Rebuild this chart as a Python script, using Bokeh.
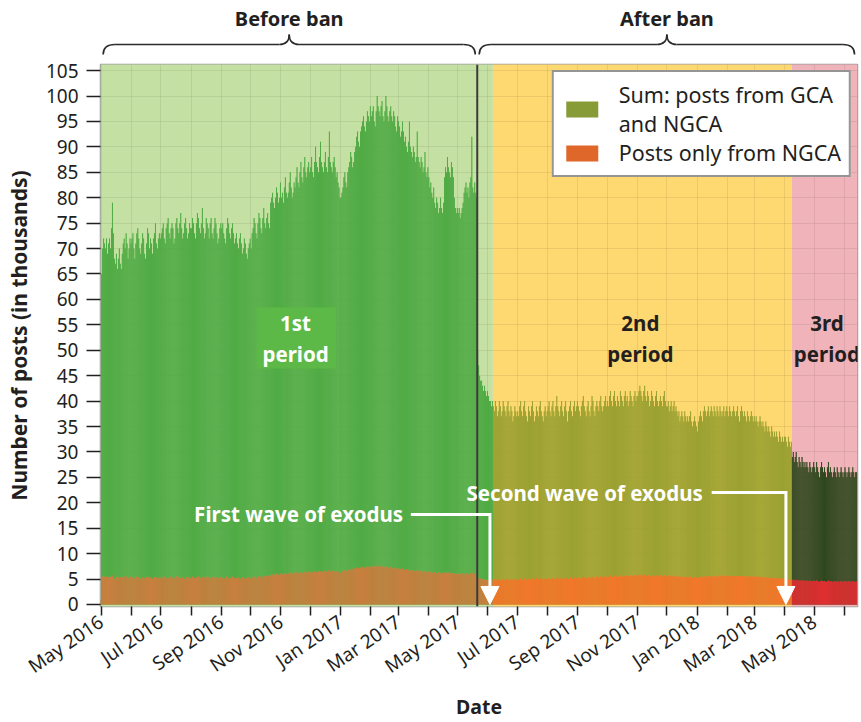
import numpy as np
import pandas as pd
from bokeh.plotting import figure
from bokeh.models import (Range1d, MonthsTicker, CustomJSTickFormatter, FixedTicker, Legend,
                          LegendItem, Label, BoxAnnotation, Arrow, NormalHead, ColumnDataSource, Span)
from bokeh.layouts import column
from bokeh.embed import file_html
from bokeh.resources import INLINE

# ---------------- data (thousands of posts per day) ----------------
START = "2016-05-01"
BAN_DATE = "2017-05-21"
P2_START = "2017-06-06"
P3_START = "2018-04-08"
FIRST_WAVE = "2017-06-03"
SECOND_WAVE = "2018-04-02"

SUM_2016_05 = [65,70,72,71,70,72,69, 71,72,70,74,79,73,68, 67,69,66,68,70,67,66, 69,71,72,70,73,71,68, 70,72,71]
SUM_2016_06 = [72,73,70,68,71,73,74, 72,70,69,71,73,72,69, 68,71,74,73,70,72,71, 69,72,73,75,71,70,72, 73,72]
SUM_2016_07 = [73,74,75,72,71,74,75, 76,73,72,74,75,74,71, 72,75,76,74,73,75,77, 74,72,73,75,76,74,72, 73,75,74]
SUM_2016_08 = [74,76,75,73,72,75,77, 76,74,73,75,78,74,72, 73,76,75,74,72,75,76, 73,72,74,76,75,73,71, 72,74,75]
SUM_2016_09 = [74,75,73,72,71,74,76, 75,73,72,74,75,73,71, 72,73,71,70,72,73,71, 69,70,72,71,69,68,70, 71,72]
SUM_2016_10 = [70,73,74,76,75,73,72, 75,77,76,74,73,76,78, 75,74,76,77,75,74,79, 80,81,79,78,80,82,81, 79,80,83]
SUM_2016_11 = [80,81,79,82,84,81,80, 81,83,85,82,80,81,83, 82,84,86,83,82,85,87, 84,83,86,88,85,84,86, 87,85]
SUM_2016_12 = [86,88,85,84,87,90,87, 86,85,88,91,87,86,85, 87,89,86,85,88,93,87, 86,85,87,88,86,84,85, 83,82,80]
SUM_2017_01 = [80,81,82,84,85,83,82, 85,86,87,89,88,86,87, 89,90,92,93,91,90,93, 94,95,96,94,93,95,97, 96,95,98]
SUM_2017_02 = [96,97,98,95,94,97,100, 98,97,96,98,99,96,95, 97,100,98,96,95,97,98, 96,95,97,96,94,93,96]
SUM_2017_03 = [95,94,92,93,95,93,91, 92,90,89,91,95,90,89, 88,90,89,87,88,93,88, 87,86,88,87,85,86,89, 85,84,86]
SUM_2017_04 = [84,82,83,81,80,82,79, 78,80,79,77,78,80,78, 77,79,84,86,85,88,86, 85,84,87,86,84,80,78, 77,78]
SUM_2017_05 = [77,78,76,77,78,79,81, 82,83,81,82,80,83,84, 92,82,81,83,81,80,50, 47,45,44,44,43,42,43, 42,41,42]
SUM_2017_06 = [41,40,40,39,40,39,38, 40,39,37,38,40,39,37, 38,40,39,38,37,39,40, 38,37,39,38,36,37,39, 38,37]
SUM_2017_07 = [38,37,39,40,38,37,39, 40,38,37,36,39,38,37, 39,40,38,36,37,39,38, 37,39,40,38,37,36,38, 39,37,38]
SUM_2017_08 = [39,40,38,37,39,40,38, 37,39,41,39,38,37,39, 40,38,37,39,40,38,36, 38,39,40,38,37,39,40, 38,39,40]
SUM_2017_09 = [39,38,37,39,40,41,39, 38,37,39,40,38,37,39, 41,40,38,37,39,40,39, 38,40,41,39,38,39,40, 41,39]
SUM_2017_10 = [40,39,41,42,40,39,41, 42,40,39,41,40,39,42, 41,40,39,41,42,40,41, 39,40,42,41,40,39,41, 42,40,41]
SUM_2017_11 = [41,42,43,42,41,40,42, 43,41,40,42,41,39,40, 42,41,40,39,41,42,40, 39,40,41,40,39,41,42, 40,39]
SUM_2017_12 = [39,40,38,39,40,38,39, 40,38,39,38,37,38,36, 37,38,37,36,38,37,36, 37,36,37,38,36,35,36, 37,36,35]
SUM_2018_01 = [34,36,37,38,37,36,38, 39,38,37,38,39,37,38, 39,38,37,39,38,37,39, 38,37,39,38,37,38,39, 37,38,39]
SUM_2018_02 = [38,37,39,38,37,38,39, 38,37,38,39,37,36,38, 39,38,37,38,37,36,38, 37,36,37,38,37,36,37]
SUM_2018_03 = [36,37,36,35,36,37,36, 35,36,35,34,36,35,34, 35,34,33,35,34,33,34, 33,34,33,32,34,33,32, 33,32,33]
SUM_2018_04 = [33,32,31,33,32,31,32, 29,30,28,29,30,28,27, 29,28,27,29,28,27,28, 27,28,27,26,28,27,26, 27,28]
SUM_2018_05 = [27,26,28,27,26,25,27, 28,27,26,27,26,25,27, 28,26,27,26,25,26,27, 26,25,27,26,25,26,27, 26,25,26]
SUM_2018_06 = [27,26,25,26,27,26,25, 26,27,26,25,26,26]

NGCA_2016_05 = [5.3,5.5,5.6,5.4,5.2,5.5,5.1, 5.3,5.6,5.4,5.5,5.7,5.3,5.0, 5.1,5.4,5.5,5.3,5.2,5.4,5.0, 5.2,5.5,5.6,5.4,5.3,5.5,5.1, 5.2,5.4,5.5]
NGCA_2016_06 = [5.4,5.3,5.2,5.0,5.3,5.5,5.4, 5.3,5.1,5.0,5.2,5.4,5.3,5.1, 5.0,5.3,5.5,5.4,5.2,5.3,5.1, 5.0,5.2,5.4,5.5,5.3,5.1,5.2, 5.4,5.3]
NGCA_2016_07 = [5.2,5.1,5.3,5.5,5.4,5.2,5.0, 5.1,5.3,5.4,5.5,5.3,5.1,5.0, 5.2,5.4,5.6,5.5,5.3,5.1,5.2, 5.4,5.3,5.1,5.0,5.2,5.4,5.5, 5.3,5.2,5.1]
NGCA_2016_08 = [5.3,5.5,5.4,5.2,5.0,5.3,5.4, 5.5,5.3,5.1,5.2,5.4,5.6,5.3, 5.1,5.3,5.5,5.4,5.2,5.0,5.2, 5.4,5.5,5.3,5.1,5.2,5.4,5.3, 5.1,5.2,5.4]
NGCA_2016_09 = [5.3,5.2,5.0,5.1,5.4,5.5,5.3, 5.2,5.0,5.1,5.3,5.5,5.4,5.2, 5.0,5.2,5.4,5.3,5.1,5.0,5.2, 5.3,5.4,5.2,5.0,5.1,5.3,5.4, 5.2,5.1]
NGCA_2016_10 = [5.0,5.2,5.4,5.5,5.3,5.1,5.2, 5.4,5.6,5.5,5.3,5.2,5.5,5.7, 5.5,5.4,5.6,5.8,5.6,5.5,5.7, 5.9,6.0,5.8,5.7,5.9,6.1,5.9, 5.8,6.0,6.1]
NGCA_2016_11 = [6.0,5.9,5.8,6.1,6.2,6.0,5.9, 6.1,6.3,6.2,6.0,5.9,6.2,6.3, 6.1,6.2,6.4,6.2,6.1,6.3,6.4, 6.2,6.1,6.3,6.5,6.3,6.2,6.4, 6.5,6.3]
NGCA_2016_12 = [6.4,6.5,6.3,6.2,6.5,6.6,6.4, 6.3,6.5,6.7,6.6,6.4,6.3,6.6, 6.7,6.5,6.4,6.6,6.8,6.6,6.5, 6.4,6.6,6.7,6.5,6.3,6.4,6.6, 6.5,6.3,6.2]
NGCA_2017_01 = [6.3,6.5,6.6,6.7,6.8,6.6,6.5, 6.7,6.9,7.0,6.8,6.7,6.9,7.0, 7.1,6.9,7.2,7.3,7.1,7.0,7.2, 7.3,7.4,7.2,7.1,7.3,7.4,7.2, 7.3,7.5,7.4]
NGCA_2017_02 = [7.3,7.5,7.6,7.4,7.3,7.5,7.7, 7.5,7.4,7.3,7.5,7.6,7.4,7.2, 7.3,7.5,7.4,7.2,7.1,7.3,7.4, 7.2,7.1,7.0,7.2,7.1,6.9,7.0]
NGCA_2017_03 = [7.1,7.0,6.9,7.0,7.1,6.9,6.8, 6.9,7.0,6.8,6.7,6.9,6.8,6.6, 6.7,6.8,6.6,6.5,6.7,6.8,6.6, 6.5,6.6,6.7,6.5,6.4,6.5,6.6, 6.4,6.3,6.5]
NGCA_2017_04 = [6.4,6.3,6.5,6.4,6.2,6.3,6.4, 6.2,6.1,6.3,6.4,6.2,6.1,6.3, 6.2,6.1,6.3,6.4,6.2,6.5,6.3, 6.2,6.1,6.3,6.2,6.0,6.1,6.2, 6.0,6.1]
NGCA_2017_05 = [6.0,6.1,5.9,6.0,6.2,6.1,5.9, 6.0,6.2,6.1,6.0,5.9,6.1,6.2, 6.3,6.1,6.0,6.1,5.9,5.8,5.3, 5.1,5.0,5.1,4.9,5.0,4.8,4.9, 5.0,4.8,4.9]
NGCA_2017_06 = [4.8,4.9,5.0,4.8,4.7,4.9,5.0, 4.8,4.7,4.9,5.0,4.8,4.6,4.8, 4.9,5.0,4.8,4.7,4.9,5.0,4.9, 4.8,4.7,4.9,5.0,4.8,4.7,4.9, 5.0,4.8]
NGCA_2017_07 = [4.9,4.8,5.0,5.1,4.9,4.8,5.0, 5.1,4.9,4.8,4.7,5.0,5.1,4.9, 5.0,5.1,4.9,4.8,5.0,5.2,5.0, 4.9,5.1,5.2,5.0,4.9,4.8,5.0, 5.1,4.9,5.0]
NGCA_2017_08 = [5.1,5.2,5.0,4.9,5.1,5.2,5.0, 4.9,5.1,5.3,5.1,5.0,4.9,5.1, 5.2,5.0,4.9,5.1,5.3,5.1,4.9, 5.0,5.2,5.3,5.1,5.0,5.2,5.3, 5.1,5.2,5.3]
NGCA_2017_09 = [5.2,5.1,5.0,5.2,5.4,5.5,5.3, 5.2,5.1,5.3,5.4,5.2,5.1,5.3, 5.5,5.4,5.2,5.1,5.3,5.5,5.4, 5.3,5.4,5.6,5.4,5.3,5.4,5.5, 5.6,5.4]
NGCA_2017_10 = [5.5,5.4,5.6,5.7,5.5,5.4,5.6, 5.7,5.5,5.4,5.6,5.5,5.4,5.7, 5.6,5.5,5.4,5.6,5.8,5.6,5.7, 5.5,5.6,5.8,5.7,5.6,5.5,5.7, 5.8,5.6,5.7]
NGCA_2017_11 = [5.7,5.8,5.9,5.8,5.7,5.6,5.8, 5.9,5.7,5.6,5.8,5.7,5.5,5.6, 5.8,5.7,5.6,5.5,5.7,5.8,5.6, 5.5,5.6,5.7,5.6,5.5,5.7,5.8, 5.6,5.5]
NGCA_2017_12 = [5.6,5.7,5.5,5.6,5.7,5.5,5.6, 5.7,5.5,5.6,5.5,5.4,5.5,5.3, 5.4,5.5,5.4,5.3,5.5,5.4,5.3, 5.4,5.3,5.4,5.5,5.3,5.2,5.3, 5.4,5.3,5.2]
NGCA_2018_01 = [5.1,5.3,5.4,5.5,5.4,5.3,5.5, 5.6,5.5,5.4,5.5,5.6,5.4,5.5, 5.6,5.5,5.4,5.6,5.5,5.4,5.6, 5.7,5.5,5.6,5.7,5.5,5.6,5.7, 5.5,5.6,5.7]
NGCA_2018_02 = [5.6,5.5,5.7,5.6,5.5,5.6,5.7, 5.6,5.5,5.6,5.7,5.5,5.4,5.6, 5.7,5.6,5.5,5.6,5.5,5.4,5.6, 5.5,5.4,5.5,5.6,5.5,5.4,5.5]
NGCA_2018_03 = [5.4,5.5,5.4,5.3,5.4,5.5,5.4, 5.3,5.4,5.3,5.2,5.4,5.3,5.2, 5.3,5.2,5.1,5.3,5.2,5.1,5.2, 5.1,5.2,5.1,5.0,5.2,5.1,5.0, 5.1,5.0,5.1]
NGCA_2018_04 = [5.0,4.9,4.8,5.0,4.9,4.8,4.9, 4.8,4.9,4.7,4.8,4.9,4.7,4.6, 4.8,4.7,4.6,4.8,4.7,4.6,4.7, 4.6,4.7,4.6,4.5,4.7,4.6,4.5, 4.6,4.7]
NGCA_2018_05 = [4.6,4.5,4.7,4.6,4.5,4.4,4.6, 4.7,4.6,4.5,4.6,4.5,4.4,4.6, 4.7,4.5,4.6,4.5,4.4,4.5,4.6, 4.5,4.4,4.6,4.5,4.4,4.5,4.6, 4.5,4.4,4.5]
NGCA_2018_06 = [4.6,4.5,4.4,4.5,4.6,4.5,4.4, 4.5,4.6,4.5,4.4,4.5,4.5]

Y_TICKS = list(range(0, 106, 5))
MONTH_NAMES = ["Jan", "Feb", "Mar", "Apr", "May", "Jun", "Jul", "Aug", "Sep", "Oct", "Nov", "Dec"]

SUM_MONTHS = [SUM_2016_05, SUM_2016_06, SUM_2016_07, SUM_2016_08, SUM_2016_09, SUM_2016_10,
              SUM_2016_11, SUM_2016_12, SUM_2017_01, SUM_2017_02, SUM_2017_03, SUM_2017_04,
              SUM_2017_05, SUM_2017_06, SUM_2017_07, SUM_2017_08, SUM_2017_09, SUM_2017_10,
              SUM_2017_11, SUM_2017_12, SUM_2018_01, SUM_2018_02, SUM_2018_03, SUM_2018_04,
              SUM_2018_05, SUM_2018_06]
NGCA_MONTHS = [NGCA_2016_05, NGCA_2016_06, NGCA_2016_07, NGCA_2016_08, NGCA_2016_09, NGCA_2016_10,
               NGCA_2016_11, NGCA_2016_12, NGCA_2017_01, NGCA_2017_02, NGCA_2017_03, NGCA_2017_04,
               NGCA_2017_05, NGCA_2017_06, NGCA_2017_07, NGCA_2017_08, NGCA_2017_09, NGCA_2017_10,
               NGCA_2017_11, NGCA_2017_12, NGCA_2018_01, NGCA_2018_02, NGCA_2018_03, NGCA_2018_04,
               NGCA_2018_05, NGCA_2018_06]

# ---------------- assemble ----------------
sum_vals, ngca_vals, dates = [], [], []
month_start = pd.Timestamp(START)
for s_list, n_list in zip(SUM_MONTHS, NGCA_MONTHS):
    for i, (s, n) in enumerate(zip(s_list, n_list)):
        sum_vals.append(s)
        ngca_vals.append(n)
        dates.append(month_start + pd.Timedelta(days=i))
    month_start = month_start + pd.offsets.MonthBegin(1)

dates = pd.DatetimeIndex(dates)
DAY = 86400000.0
p2 = pd.Timestamp(P2_START)
p3 = pd.Timestamp(P3_START)
period = np.where(dates < p2, 0, np.where(dates < p3, 1, 2))

SUM_DARK = ["#38983a", "#7e8c28", "#223915"]
SUM_LIGHT = ["#6cc250", "#bcbb3c", "#3d5826"]
NG_DARK = ["#c06c2c", "#f0661c", "#dc1a24"]
NG_LIGHT = ["#d69658", "#f68c3e", "#ea4b45"]
BG = ["#c5e0a3", "#fed870", "#efb3b9"]
DARK_TXT = "#231f20"
FONT = "Noto Sans"

src = ColumnDataSource(dict(
    x=dates + pd.Timedelta(hours=12),
    total=sum_vals,
    ngca=ngca_vals,
    s_dark=[SUM_DARK[k] for k in period],
    s_light=[SUM_LIGHT[k] for k in period],
    n_dark=[NG_DARK[k] for k in period],
    n_light=[NG_LIGHT[k] for k in period],
))

x_start = pd.Timestamp(START) - pd.Timedelta(hours=17)
x_end = dates[-1] + pd.Timedelta(hours=31)
x_range = Range1d(start=x_start, end=x_end)

FRAME_W = 757
LEFT = 100
RIGHT = 2
TOP_H = 56      # bracket strip
MAIN_TOP = 8    # space above the main frame (keeps the "105" label whole)

# ---------------- main figure ----------------
p = figure(x_axis_type="datetime", x_range=x_range, y_range=Range1d(-0.4, 106.2),
           frame_width=FRAME_W, frame_height=542, min_border_left=LEFT, min_border_right=RIGHT,
           min_border_top=MAIN_TOP, min_border_bottom=106, output_backend="svg", toolbar_location=None,
           background_fill_color="white", border_fill_color="white")

p.quad(left=[x_start, p2, p3], right=[p2, p3, x_end], bottom=-5, top=200,
       fill_color=BG, line_color=None, level="image")

p.vbar(x="x", top="total", bottom=0, width=DAY * 1.0, fill_color="s_light", line_color=None, source=src)
p.vbar(x="x", top="total", bottom=0, width=DAY * 0.55, fill_color="s_dark", line_color=None, source=src)
p.vbar(x="x", top="ngca", bottom=0, width=DAY * 1.0, fill_color="n_light", line_color=None, source=src)
p.vbar(x="x", top="ngca", bottom=0, width=DAY * 0.55, fill_color="n_dark", line_color=None, source=src)

p.add_layout(Span(location=pd.Timestamp(BAN_DATE), dimension="height", line_color="#3b3b3b", line_width=2))

# grid
p.xgrid.ticker = MonthsTicker(months=list(range(12)))
p.ygrid.ticker = FixedTicker(ticks=Y_TICKS)
p.grid.grid_line_color = "#000000"
p.grid.grid_line_alpha = 0.07
p.grid.grid_line_width = 1

p.outline_line_color = "#9c9c9c"
p.outline_line_width = 1.5

# axes
p.xaxis.ticker = MonthsTicker(months=list(range(12)))
p.xaxis.formatter = CustomJSTickFormatter(args=dict(names=MONTH_NAMES), code="""
    const d = new Date(tick);
    const m = d.getUTCMonth();
    if (m % 2 != 0) { return ""; }
    return names[m] + " " + d.getUTCFullYear();
""")
p.xaxis.major_label_orientation = 0.6
p.xaxis.axis_label = "Date"
p.yaxis.ticker = FixedTicker(ticks=Y_TICKS)
p.yaxis.axis_label = "Number of posts (in thousands)"
for ax in (p.xaxis[0], p.yaxis[0]):
    ax.axis_line_color = None
    ax.major_tick_line_color = DARK_TXT
    ax.major_tick_line_width = 1.5
    ax.major_tick_in = 0
    ax.minor_tick_line_color = None
    ax.major_label_text_font = FONT
    ax.major_label_text_font_size = "19px"
    ax.major_label_text_color = DARK_TXT
    ax.axis_label_text_font = FONT
    ax.axis_label_text_font_style = "bold"
    ax.axis_label_text_color = DARK_TXT
p.xaxis.axis_label_text_font_size = "19.5px"
p.yaxis.axis_label_text_font_size = "21px"
p.xaxis.major_tick_out = 9
p.xaxis.major_label_standoff = 4
p.xaxis.axis_label_standoff = 0
p.yaxis.major_tick_out = 14
p.yaxis.major_label_standoff = 8
p.yaxis.axis_label_standoff = 10

# legend (proxy renderers, parked outside the visible range)
park = [x_start - pd.Timedelta(days=60)]
r_sum = p.vbar(x=park, top=[1], width=DAY, fill_color="#879b37", line_color=None)
r_ng = p.vbar(x=park, top=[1], width=DAY, fill_color="#e0672a", line_color=None)
legend = Legend(items=[LegendItem(label="Sum: posts from GCA\nand NGCA", renderers=[r_sum]),
                       LegendItem(label="Posts only from NGCA", renderers=[r_ng])],
                location="top_right")
legend.label_text_font = FONT
legend.label_text_font_size = "21.5px"
legend.label_text_color = DARK_TXT
legend.label_text_line_height = 0.95
legend.glyph_width = 40
legend.glyph_height = 20
legend.label_standoff = 17
legend.padding = 8
legend.spacing = 0
legend.margin = 6
legend.border_line_color = "#2b2b2b"
legend.border_line_width = 2
legend.background_fill_color = "white"
legend.background_fill_alpha = 1
p.add_layout(legend)

# period labels
p.add_layout(BoxAnnotation(left=pd.Timestamp("2016-10-07"), right=pd.Timestamp("2016-12-27"),
                           bottom=46.4, top=58.4, fill_color="#5db947", fill_alpha=1, line_color=None))
for txt, when, col in (("1st\nperiod", "2016-11-16", "white"),
                       ("2nd\nperiod", "2017-11-04", DARK_TXT),
                       ("3rd\nperiod", "2018-05-14", DARK_TXT)):
    p.add_layout(Label(x=pd.Timestamp(when), y=52.3, text=txt, text_align="center",
                       text_baseline="middle", text_font=FONT, text_font_size="20.5px",
                       text_font_style="bold", text_color=col, text_line_height=1.12))

# exodus annotations
for txt, txt_end, line_start, arrow_at, yv in (
        ("First wave of exodus", "2017-03-06", "2017-03-14", FIRST_WAVE, 17.7),
        ("Second wave of exodus", "2018-01-07", "2018-01-16", SECOND_WAVE, 22.0)):
    p.add_layout(Label(x=pd.Timestamp(txt_end), y=yv, text=txt, text_align="right",
                       text_baseline="middle", text_font=FONT, text_font_size="20.5px",
                       text_font_style="bold", text_color="white"))
    xa = pd.Timestamp(arrow_at).value / 1e6
    p.add_layout(Arrow(end=None, x_start=pd.Timestamp(line_start).value / 1e6, y_start=yv,
                       x_end=xa, y_end=yv, line_color="white", line_width=3))
    p.add_layout(Arrow(end=NormalHead(size=18, fill_color="white", line_color="white"),
                       x_start=xa, y_start=yv + 0.3, x_end=xa, y_end=0.0,
                       line_color="white", line_width=3))

# ---------------- bracket strip on top ----------------
top = figure(x_range=x_range, y_range=Range1d(0, TOP_H), x_axis_type=None, y_axis_type=None,
             frame_width=FRAME_W, frame_height=TOP_H, min_border_left=LEFT, min_border_right=RIGHT,
             min_border_top=0, min_border_bottom=0, output_backend="svg", toolbar_location=None)
top.outline_line_color = None
top.grid.visible = False

# vertical positions in the strip, measured from its bottom edge (page y = 56 - value)
Y_END, Y_LINE, Y_TIP, Y_TXT = 2, 12, 22, 38
pad = pd.Timedelta(days=12)
tip = pd.Timedelta(days=10)
for lab, a, b in (("Before ban", pd.Timestamp(START) + pd.Timedelta(days=2), pd.Timestamp(BAN_DATE) - pd.Timedelta(days=2)),
                  ("After ban", pd.Timestamp(BAN_DATE) + pd.Timedelta(days=2), x_end - pd.Timedelta(days=3))):
    c = a + (b - a) / 2
    kw = dict(line_color="#2b2b2b", line_width=1.6)
    top.quadratic(x0=[a], y0=[Y_END], x1=[a + pad], y1=[Y_LINE], cx=[a], cy=[Y_LINE], **kw)
    top.quadratic(x0=[b], y0=[Y_END], x1=[b - pad], y1=[Y_LINE], cx=[b], cy=[Y_LINE], **kw)
    top.segment(x0=[a + pad, c + tip], y0=[Y_LINE, Y_LINE], x1=[c - tip, b - pad], y1=[Y_LINE, Y_LINE], **kw)
    top.quadratic(x0=[c - tip], y0=[Y_LINE], x1=[c], y1=[Y_TIP], cx=[c], cy=[Y_LINE], **kw)
    top.quadratic(x0=[c + tip], y0=[Y_LINE], x1=[c], y1=[Y_TIP], cx=[c], cy=[Y_LINE], **kw)
    top.add_layout(Label(x=c, y=Y_TXT, text=lab, text_align="center", text_baseline="middle",
                         text_font=FONT, text_font_size="20px", text_font_style="bold",
                         text_color=DARK_TXT))

layout = column(top, p, spacing=0)
open("out.html", "w").write(file_html(layout, INLINE))
